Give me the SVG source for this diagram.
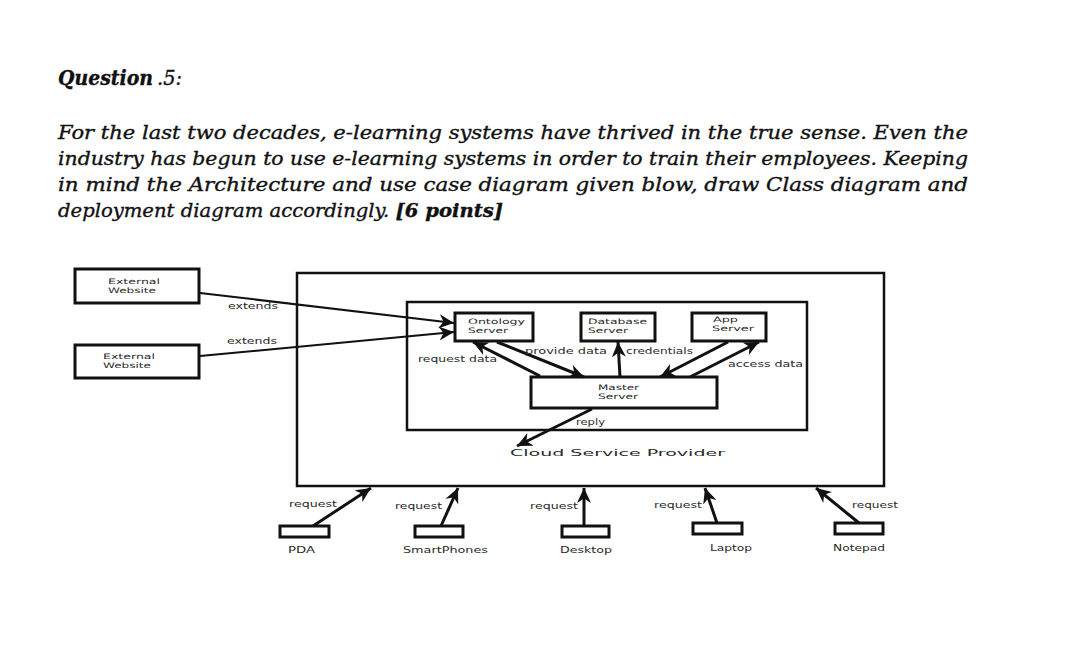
<svg xmlns="http://www.w3.org/2000/svg" width="1080" height="659" viewBox="0 0 1080 659">
<style>
.q{font-family:"DejaVu Serif","Liberation Serif",serif;font-style:italic;fill:#111;stroke:#111;stroke-width:0.35}
.t{font-family:"DejaVu Sans","Liberation Sans",sans-serif;font-size:8.5px;fill:#2a2a2a}
.s{font-size:7.5px}
.box{fill:#fff;stroke:#111;stroke-width:3}
.frame{fill:none;stroke:#111;stroke-width:2.5}
.ln{fill:none;stroke:#111;stroke-width:3}
.ln2{fill:none;stroke:#111;stroke-width:2}
</style>
<defs>
<marker id="ah" markerUnits="userSpaceOnUse" markerWidth="17" markerHeight="15" refX="15" refY="7.5" orient="auto" viewBox="0 0 17 15">
<path d="M0,0.5 L15,7.5 L0,14.5 L4.5,7.5 z" fill="#111"/>
</marker>
</defs>
<rect width="1080" height="659" fill="#fff"/>
<g id="question">
<text class="q" x="58" y="85" font-size="20" font-weight="bold" textLength="95" lengthAdjust="spacingAndGlyphs">Question</text>
<text class="q" x="157" y="85" font-size="20" textLength="25" lengthAdjust="spacingAndGlyphs">.5:</text>
<text class="q" x="58" y="138.5" font-size="18" textLength="910" lengthAdjust="spacingAndGlyphs">For the last two decades, e-learning systems have thrived in the true sense. Even the</text>
<text class="q" x="58" y="164.5" font-size="18" textLength="910" lengthAdjust="spacingAndGlyphs">industry has begun to use e-learning systems in order to train their employees. Keeping</text>
<text class="q" x="58" y="191" font-size="18" textLength="910" lengthAdjust="spacingAndGlyphs">in mind the Architecture and use case diagram given blow, draw Class diagram and</text>
<text class="q" x="58" y="217" font-size="18" textLength="445" lengthAdjust="spacingAndGlyphs">deployment diagram accordingly. <tspan font-weight="bold">[6 points]</tspan></text>
</g>
<g id="cloud">
<rect class="frame" x="297" y="273" width="587" height="213" stroke-width="3"/>
<text class="t" x="510" y="456" font-size="14" textLength="215" lengthAdjust="spacingAndGlyphs">Cloud Service Provider</text>
</g>
<g id="inner">
<rect class="frame" x="407" y="302" width="400" height="128"/>
</g>
<g id="ext1">
<rect class="box" x="75" y="269" width="124" height="34"/>
<text class="t s" x="108" y="284" textLength="52" lengthAdjust="spacingAndGlyphs">External</text>
<text class="t s" x="108" y="293" textLength="48" lengthAdjust="spacingAndGlyphs">Website</text>
</g>
<g id="ext2">
<rect class="box" x="75" y="345" width="124" height="33"/>
<text class="t s" x="103" y="359" textLength="52" lengthAdjust="spacingAndGlyphs">External</text>
<text class="t s" x="103" y="368" textLength="48" lengthAdjust="spacingAndGlyphs">Website</text>
</g>
<g id="ontology">
<rect class="box" x="455" y="313" width="78" height="28"/>
<text class="t s" x="468" y="324" textLength="57" lengthAdjust="spacingAndGlyphs">Ontology</text>
<text class="t s" x="468" y="333" textLength="40" lengthAdjust="spacingAndGlyphs">Server</text>
</g>
<g id="database">
<rect class="box" x="581" y="313" width="74" height="28"/>
<text class="t s" x="588" y="324" textLength="59" lengthAdjust="spacingAndGlyphs">Database</text>
<text class="t s" x="588" y="333" textLength="40" lengthAdjust="spacingAndGlyphs">Server</text>
</g>
<g id="app">
<rect class="box" x="692" y="313" width="74" height="28"/>
<text class="t s" x="713" y="322" textLength="25" lengthAdjust="spacingAndGlyphs">App</text>
<text class="t s" x="712" y="331" textLength="42" lengthAdjust="spacingAndGlyphs">Server</text>
</g>
<g id="master">
<rect class="box" x="531" y="377" width="186" height="31"/>
<text class="t s" x="598" y="390" textLength="41" lengthAdjust="spacingAndGlyphs">Master</text>
<text class="t s" x="598" y="399" textLength="40" lengthAdjust="spacingAndGlyphs">Server</text>
</g>
<g id="pda">
<rect class="box" x="280" y="526" width="49" height="11"/>
<text class="t" x="288" y="553" textLength="27" lengthAdjust="spacingAndGlyphs">PDA</text>
</g>
<g id="smartphones">
<rect class="box" x="415" y="526" width="48" height="11"/>
<text class="t" x="403" y="553" textLength="85" lengthAdjust="spacingAndGlyphs">SmartPhones</text>
</g>
<g id="desktop">
<rect class="box" x="562" y="526" width="47" height="11"/>
<text class="t" x="560" y="553" textLength="52" lengthAdjust="spacingAndGlyphs">Desktop</text>
</g>
<g id="laptop">
<rect class="box" x="693" y="523" width="49" height="11"/>
<text class="t" x="710" y="551" textLength="42" lengthAdjust="spacingAndGlyphs">Laptop</text>
</g>
<g id="notepad">
<rect class="box" x="835" y="523" width="48" height="11"/>
<text class="t" x="833" y="551" textLength="52" lengthAdjust="spacingAndGlyphs">Notepad</text>
</g>
<g id="connectors">
<line class="ln2" x1="200" y1="293" x2="454" y2="323" marker-end="url(#ah)"/>
<line class="ln2" x1="200" y1="356" x2="454" y2="332" marker-end="url(#ah)"/>
<text class="t" x="228" y="309" textLength="50" lengthAdjust="spacingAndGlyphs">extends</text>
<text class="t" x="227" y="344" textLength="50" lengthAdjust="spacingAndGlyphs">extends</text>
<line class="ln" x1="540" y1="376" x2="473" y2="342" marker-end="url(#ah)"/>
<line class="ln" x1="497" y1="342" x2="584" y2="377" marker-end="url(#ah)"/>
<line class="ln" x1="620" y1="377" x2="618" y2="342" marker-end="url(#ah)"/>
<line class="ln" x1="728" y1="342" x2="660" y2="377" marker-end="url(#ah)"/>
<line class="ln" x1="690" y1="377" x2="759" y2="342" marker-end="url(#ah)"/>
<line class="ln" x1="592" y1="409" x2="517" y2="446" marker-end="url(#ah)"/>
<text class="t" x="418" y="362" textLength="79" lengthAdjust="spacingAndGlyphs">request data</text>
<text class="t" x="525" y="354" textLength="82" lengthAdjust="spacingAndGlyphs">provide data</text>
<text class="t" x="626" y="354" textLength="67" lengthAdjust="spacingAndGlyphs">credentials</text>
<text class="t" x="728" y="367" textLength="75" lengthAdjust="spacingAndGlyphs">access data</text>
<text class="t" x="576" y="425" textLength="29" lengthAdjust="spacingAndGlyphs">reply</text>
<line class="ln" x1="313" y1="526" x2="371" y2="488" marker-end="url(#ah)"/>
<line class="ln" x1="441" y1="526" x2="458" y2="488" marker-end="url(#ah)"/>
<line class="ln" x1="584" y1="526" x2="584" y2="488" marker-end="url(#ah)"/>
<line class="ln" x1="717" y1="523" x2="705" y2="488" marker-end="url(#ah)"/>
<line class="ln" x1="859" y1="523" x2="816" y2="488" marker-end="url(#ah)"/>
<text class="t" x="289" y="507" textLength="48" lengthAdjust="spacingAndGlyphs">request</text>
<text class="t" x="395" y="509" textLength="47" lengthAdjust="spacingAndGlyphs">request</text>
<text class="t" x="530" y="509" textLength="48" lengthAdjust="spacingAndGlyphs">request</text>
<text class="t" x="654" y="508" textLength="48" lengthAdjust="spacingAndGlyphs">request</text>
<text class="t" x="852" y="508" textLength="46" lengthAdjust="spacingAndGlyphs">request</text>
</g>
</svg>
